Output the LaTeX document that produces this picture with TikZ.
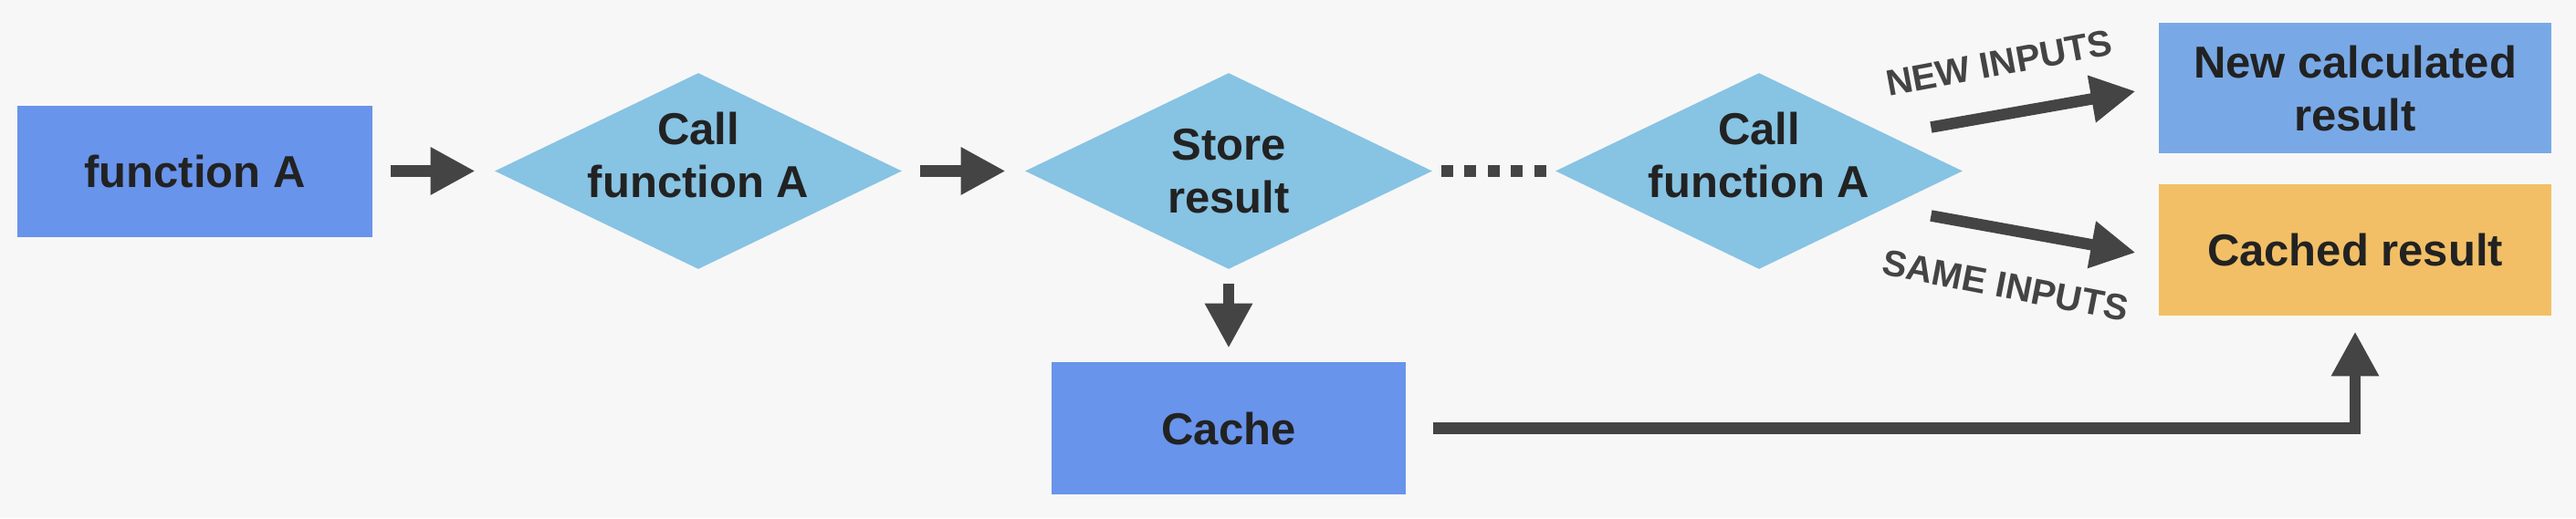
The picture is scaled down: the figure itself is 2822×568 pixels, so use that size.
\documentclass[tikz,border=0pt]{standalone}
\usepackage{fontspec}
\setmainfont{Liberation Sans}
\usetikzlibrary{shapes.geometric, arrows.meta}

\definecolor{bgcolor}{HTML}{F7F7F7}
\definecolor{boxblue}{HTML}{6894EB}
\definecolor{diamondblue}{HTML}{87C3E3}
\definecolor{newblue}{HTML}{78A9E6}
\definecolor{cachedorange}{HTML}{F2BF66}
\definecolor{arrowgray}{HTML}{444444}
\definecolor{textdark}{HTML}{222222}

\newcommand{\boxfont}{\fontsize{24.5pt}{29pt}\selectfont\bfseries}
\newcommand{\tagfont}{\fontsize{20pt}{24pt}\selectfont\bfseries}
\newcommand{\liftline}[1]{\raisebox{9pt}[\height][\depth]{#1}}

\begin{document}
\begin{tikzpicture}[x=0.5pt, y=-0.5pt,
    block/.style={rectangle, inner sep=0pt, minimum width=194.5pt, minimum height=72pt, text=textdark, font=\boxfont, align=center},
    decision/.style={diamond, fill=diamondblue, inner sep=-20pt, minimum width=223pt, minimum height=107.5pt, text=textdark, font=\boxfont, align=center},
    flow/.style={line width=6.25pt, draw=arrowgray, -{Triangle[width=24.5pt, length=24.5pt]}},
    inputtag/.style={text=arrowgray, font=\tagfont}]
    % Background
    \fill[bgcolor] (0,0) rectangle (2822,568);

    % Main row
    \node[block, fill=boxblue] (funca) at (213.5,187.5) {function A};
    \node[decision] (callone) at (765,187.5) {\liftline{Call}\\\liftline{function A}};
    \node[decision] (store) at (1346,187.5) {Store\\result};
    \node[decision] (calltwo) at (1927,187.5) {\liftline{Call}\\\liftline{function A}};

    % Results
    \node[block, fill=newblue, minimum width=215pt, minimum height=71.5pt] (newres) at (2580,96.5) {New calculated\\result};
    \node[block, fill=cachedorange, minimum width=215pt] (cached) at (2580,274) {Cached result};

    % Cache
    \node[block, fill=boxblue, minimum width=194pt, minimum height=72.5pt] (cache) at (1346,469.5) {Cache};

    % Connectors
    \draw[flow, shorten <=10pt, shorten >=10.5pt] (funca) -- (callone);
    \draw[flow, shorten <=10pt, shorten >=10.5pt] (callone) -- (store);
    \draw[line width=6.5pt, draw=arrowgray, dash pattern=on 6.5pt off 6.25pt, shorten <=4.75pt, shorten >=4.75pt] (store) -- (calltwo);
    \draw[flow, shorten <=8pt, shorten >=7.5pt] (store) -- (cache);
    \draw[flow, shorten <=15pt, shorten >=8.5pt] (cache.east) -| (cached.south);

    % Input branches
    \coordinate (newfrom) at ([shift={(-35,-48)}]calltwo.east);
    \coordinate (newto) at ([shift={(-25,3.5)}]newres.west);
    \coordinate (samefrom) at ([shift={(-35,49)}]calltwo.east);
    \coordinate (sameto) at ([shift={(-25,3)}]cached.west);
    \draw[flow] (newfrom) -- (newto);
    \draw[flow] (samefrom) -- (sameto);
    \node[inputtag, rotate=10.5] (newtag) at (2190,69) {NEW INPUTS};
    \node[inputtag, rotate=-11] (sametag) at (2197,313) {SAME INPUTS};
\end{tikzpicture}
\end{document}
